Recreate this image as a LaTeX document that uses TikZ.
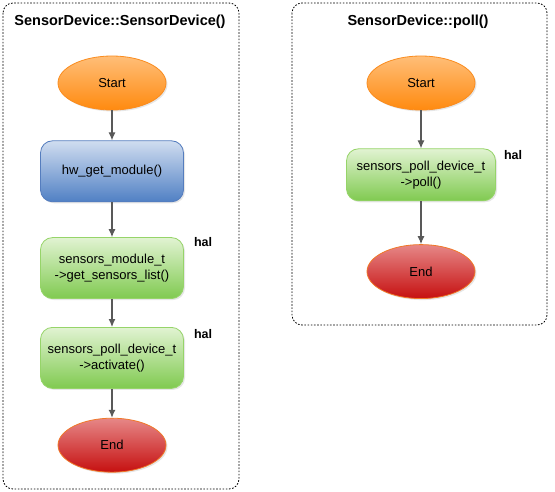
\documentclass[tikz,border=0pt]{standalone}
\usepackage{fontspec}
\setmainfont{Liberation Sans}
\usetikzlibrary{positioning,shapes.geometric,shadows,arrows.meta}
\definecolor{orangeTop}{RGB}{255,190,120}
\definecolor{orangeBot}{RGB}{255,138,15}
\definecolor{orangeLine}{RGB}{250,140,30}
\definecolor{blueTop}{RGB}{208,221,240}
\definecolor{blueBot}{RGB}{80,128,196}
\definecolor{blueLine}{RGB}{85,125,190}
\definecolor{greenTop}{RGB}{225,243,210}
\definecolor{greenBot}{RGB}{128,202,80}
\definecolor{greenLine}{RGB}{150,212,105}
\definecolor{redTop}{RGB}{230,135,135}
\definecolor{redBot}{RGB}{198,16,16}
\definecolor{redLine}{RGB}{240,120,40}
\tikzset{
  term/.style={ellipse, minimum width=108pt, minimum height=54pt, inner sep=0pt, thick,
    font=\fontsize{13}{15}\selectfont,
    drop shadow={opacity=0.2, shadow xshift=1.5pt, shadow yshift=-1.5pt}},
  startnode/.style={term, draw=orangeLine, top color=orangeTop, bottom color=orangeBot},
  endnode/.style={term, draw=redLine, top color=redTop, bottom color=redBot},
  proc/.style={rectangle, rounded corners=12pt, minimum width=143pt, minimum height=61pt,
    thick, align=center, font=\fontsize{13}{16}\selectfont,
    drop shadow={opacity=0.2, shadow xshift=1.5pt, shadow yshift=-1.5pt}},
  blueproc/.style={proc, draw=blueLine, top color=blueTop, bottom color=blueBot},
  greenproc/.style={proc, draw=greenLine, top color=greenTop, bottom color=greenBot},
  connect/.style={-{Latex[length=8pt,width=7pt]}, line width=1.1pt, draw=black!65},
  frame/.style={line width=0.8pt, dash pattern=on 1.6pt off 1.6pt, rounded corners=10pt},
  title/.style={font=\fontsize{14.5}{17}\selectfont\bfseries},
  haltag/.style={font=\fontsize{12.5}{14}\selectfont\bfseries, inner sep=0pt}
}
\begin{document}
\begin{tikzpicture}[x=1pt,y=1pt]
    \useasboundingbox (0,0) rectangle (555,-492);

    % constructor
    \draw[frame] (3,-3) rectangle (239,-489);
    \node[title] (TitleCtor) at (120,-22) {SensorDevice::SensorDevice()};
    \node[startnode] (StartCtor) at (112,-83) {Start};
    \node[blueproc] (HwGet) [below=30pt of StartCtor] {hw\_get\_module()};
    \node[greenproc] (SensList) [below=35pt of HwGet] {sensors\_module\_t\\->get\_sensors\_list()};
    \node[greenproc] (Activate) [below=28pt of SensList] {sensors\_poll\_device\_t\\->activate()};
    \node[endnode] (EndCtor) [below=29pt of Activate] {End};
    \node[haltag] (HalList) [right=10pt of SensList.north east, yshift=-5pt] {hal};
    \node[haltag] (HalActivate) [right=10pt of Activate.north east, yshift=-7pt] {hal};

    \path (StartCtor) edge [connect] (HwGet)
          (HwGet) edge [connect] (SensList)
          (SensList) edge [connect] (Activate)
          (Activate) edge [connect] (EndCtor);

    % poll
    \draw[frame] (292,-3) rectangle (547,-325);
    \node[title] (TitlePoll) at (418,-22) {SensorDevice::poll()};
    \node[startnode] (StartPoll) at (421,-83) {Start};
    \node[greenproc, minimum width=149pt, minimum height=52pt] (Poll) [below=38pt of StartPoll] {sensors\_poll\_device\_t\\->poll()};
    \node[endnode] (EndPoll) [below=43pt of Poll] {End};
    \node[haltag] (HalPoll) [right=8pt of Poll.north east, yshift=-7pt] {hal};

    \path (StartPoll) edge [connect] (Poll)
          (Poll) edge [connect] (EndPoll);
\end{tikzpicture}
\end{document}
